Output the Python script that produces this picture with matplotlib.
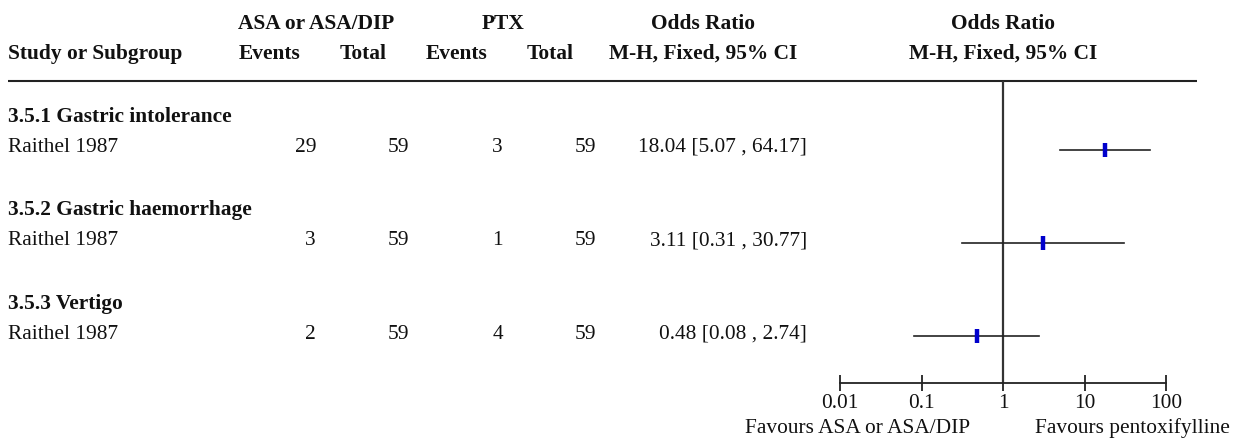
import matplotlib
matplotlib.use("Agg")
import matplotlib.pyplot as plt
import numpy as np

# ---- data ----
subgroups = ["3.5.1 Gastric intolerance", "3.5.2 Gastric haemorrhage", "3.5.3 Vertigo"]
studies = ["Raithel 1987", "Raithel 1987", "Raithel 1987"]
asa_events = [29, 3, 2]
asa_total = [59, 59, 59]
ptx_events = [3, 1, 4]
ptx_total = [59, 59, 59]
odds_ratio = [18.04, 3.11, 0.48]
ci_low = [5.07, 0.31, 0.08]
ci_high = [64.17, 30.77, 2.74]
tick_values = [0.01, 0.1, 1, 10, 100]
tick_labels = ["0.01", "0.1", "1", "10", "100"]
left_label = "Favours ASA or ASA/DIP"
right_label = "Favours pentoxifylline"

# ---- layout (pixel units) ----
W, H = 1241, 439
DPI = 100
FS = 15.4
FONT = "Liberation Serif"
plt.rcParams["font.family"] = [FONT, "DejaVu Serif"]

fig = plt.figure(figsize=(W / DPI, H / DPI), dpi=DPI)
bg = fig.add_axes([0, 0, 1, 1])
bg.set_xlim(0, W)
bg.set_ylim(H, 0)
bg.axis("off")

def txt(x, y, s, ha="left", bold=False):
    bg.text(x, y, s, ha=ha, va="baseline", fontsize=FS,
            fontweight="bold" if bold else "normal", color="#111111")

# header
txt(316, 29, "ASA or ASA/DIP", "center", True)
txt(503, 29, "PTX", "center", True)
txt(703, 29, "Odds Ratio", "center", True)
txt(1003, 29, "Odds Ratio", "center", True)
txt(8, 59, "Study or Subgroup", "left", True)
txt(270, 59, "Events", "center", True)
txt(363, 59, "Total", "center", True)
txt(457, 59, "Events", "center", True)
txt(550, 59, "Total", "center", True)
txt(703, 59, "M-H, Fixed, 95% CI", "center", True)
txt(1003, 59, "M-H, Fixed, 95% CI", "center", True)

bg.plot([8, 1197], [82, 82], color="#222222", lw=1.5, solid_capstyle="butt")

row0 = 152.0
step = 93.3
for i in range(len(studies)):
    yb = row0 + step * i
    txt(8, yb - 30, subgroups[i], "left", True)
    txt(8, yb, studies[i])
    txt(316, yb, str(asa_events[i]), "right")
    txt(409, yb, str(asa_total[i]), "right")
    txt(503, yb, str(ptx_events[i]), "right")
    txt(596, yb, str(ptx_total[i]), "right")
    txt(807, yb, f"{odds_ratio[i]:.2f} [{ci_low[i]:.2f} , {ci_high[i]:.2f}]", "right")

# forest axes
x0, x1 = 840, 1166
ytop, ybot = 82, 384
ax = fig.add_axes([x0 / W, 1 - ybot / H, (x1 - x0) / W, (ybot - ytop) / H])
ax.set_xscale("log")
ax.set_xlim(tick_values[0], tick_values[-1])
ax.set_ylim(ybot, ytop)
ax.patch.set_alpha(0)
for s in ["top", "left", "right"]:
    ax.spines[s].set_visible(False)
ax.spines["bottom"].set_linewidth(1.3)
ax.spines["bottom"].set_color("#222222")
ax.set_yticks([])
ax.set_xticks(tick_values)
ax.set_xticklabels(tick_labels)
ax.minorticks_off()
ax.tick_params(axis="x", direction="inout", length=12, width=1.3, color="#222222",
               labelsize=FS, pad=1, labelcolor="#111111")
ax.axvline(1, color="#333333", lw=1.6)

for i in range(len(studies)):
    yc = 150.7 + step * i
    ax.plot([ci_low[i], ci_high[i]], [yc, yc], color="#222222", lw=1.2)
    ax.plot([odds_ratio[i]], [yc], marker="|", markersize=10.5, mew=3.2,
            color="#0000CC", linestyle="none")

txt(970, 433, left_label, "right")
txt(1035, 433, right_label, "left")

fig.savefig("out.png", dpi=DPI)
